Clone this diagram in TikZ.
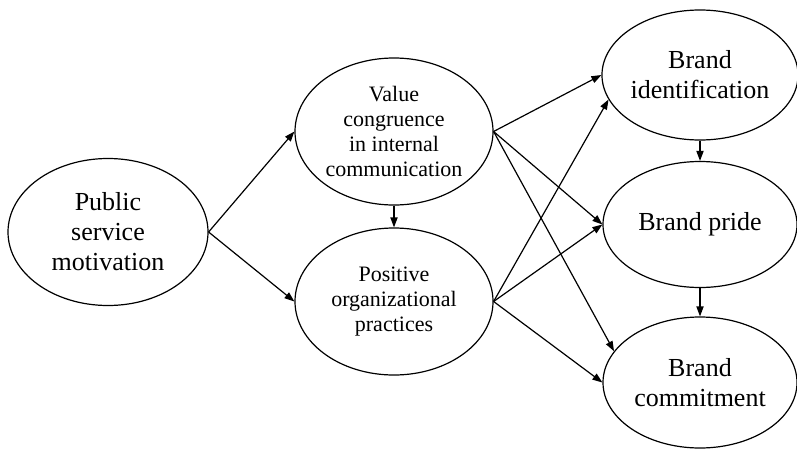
\documentclass[tikz,border=0pt]{standalone}
\usepackage{fontspec}
\setmainfont{Liberation Serif}
\usetikzlibrary{shapes.geometric,arrows.meta}

\begin{document}
\begin{tikzpicture}[x=0.5pt, y=-0.5pt, line width=0.6pt,
    construct/.style={draw, ellipse, inner sep=0pt, align=center},
    big/.style={font=\fontsize{13}{15}\selectfont},
    small/.style={font=\fontsize{11}{12.5}\selectfont},
    >={Triangle[length=5pt, width=3.6pt]}]
    \useasboundingbox (0, 0) rectangle (797, 450);

    \node (psm) [construct, big, minimum width=100pt, minimum height=73.5pt] at (108, 232) {Public\\service\\motivation};
    \node (value) [construct, small, minimum width=99pt, minimum height=73.5pt] at (394, 131.5) {Value\\congruence\\in internal\\communication};
    \node (practices) [construct, small, minimum width=99pt, minimum height=73.5pt] at (394, 301.5) {Positive\\organizational\\practices};
    \node (ident) [construct, big, minimum width=97pt, minimum height=65pt] at (700, 75) {Brand\\identification};
    \node (pride) [construct, big, minimum width=97pt, minimum height=63pt] at (700, 224.5) {Brand pride};
    \node (commit) [construct, big, minimum width=97pt, minimum height=65.5pt] at (700, 382.5) {Brand\\commitment};

    \draw[->] (psm.east) -- (value.west);
    \draw[->] (psm.east) -- (practices.west);
    \draw[->] (value.south) -- (practices.north);

    \draw[->] (value.east) -- (ident.west);
    \draw[->] (value.east) -- (pride.west);
    \draw[->] (value.east) -- (commit.160);
    \draw[->] (practices.east) -- (ident.195);
    \draw[->] (practices.east) -- (pride.west);
    \draw[->] (practices.east) -- (commit.west);

    \draw[->] (ident.south) -- (pride.north);
    \draw[->] (pride.south) -- (commit.north);
\end{tikzpicture}
\end{document}
